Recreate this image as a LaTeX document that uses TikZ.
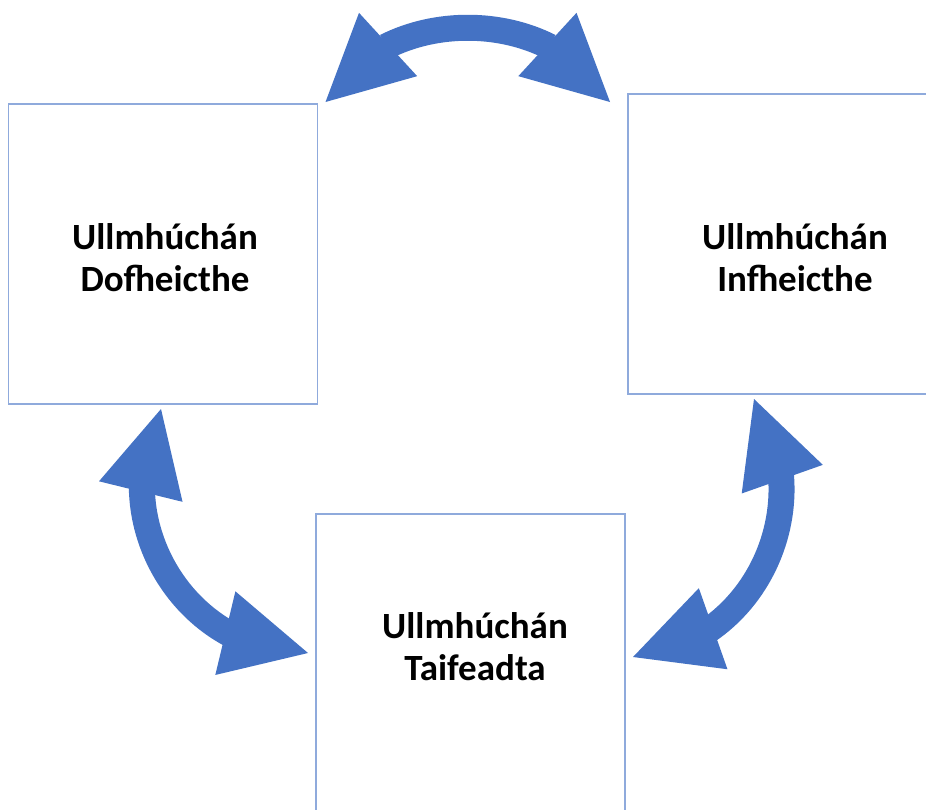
\documentclass[tikz,border=0pt]{standalone}
\usepackage{fontspec}
\setmainfont{Carlito}
\usetikzlibrary{arrows.meta,bending}
\definecolor{arrowblue}{RGB}{68,114,196}
\definecolor{boxline}{RGB}{143,170,220}
\begin{document}
\begin{tikzpicture}[x=1pt,y=-1pt,
  box/.style={draw=boxline, line width=1.8pt, fill=white, inner sep=0pt, outer sep=0pt,
    minimum width=309pt, minimum height=300pt},
  boxtext/.style={align=center, inner sep=0pt, text=black,
    font=\fontsize{37}{42}\selectfont\bfseries},
  bigarrow/.style={draw=arrowblue, line width=26pt,
    {Triangle[length=85pt,width=86pt,line width=0pt,flex]}-{Triangle[length=85pt,width=86pt,line width=0pt,flex]}}
]
\useasboundingbox (0,0) rectangle (926,809);
\clip (0,0) rectangle (926,809);
\fill[white] (0,0) rectangle (926,809);
% boxes
\node[box] (L) at (163,254) {};
\node[box, minimum width=310pt] (R) at (783,244) {};
\node[box] (B) at (470.5,664) {};
% texts
\node[boxtext] (Lt) at (165,258) {Ullmhúchán\\Dofheicthe};
\node[boxtext] (Rt) at (795,257.5) {Ullmhúchán\\Infheicthe};
\node[boxtext] (Bt) at (475,647) {Ullmhúchán\\Taifeadta};
% arrows
\draw[bigarrow] ([shift={(8,-2)}]L.north east)
  .. controls +(58.5,-99) and +(-58.5,-99) .. ([shift={(-18,8)}]R.north west);
\draw[bigarrow] ([shift={(-2,5)}]L.south)
  .. controls +(-58.1,108) and +(-124.1,2.2) .. ([shift={(-8,-11)}]B.west);
\draw[bigarrow] ([shift={(126,5)}]R.south west)
  .. controls +(67.9,99.5) and +(124.7,-10.6) .. ([shift={(8,-7)}]B.east);
\end{tikzpicture}
\end{document}
